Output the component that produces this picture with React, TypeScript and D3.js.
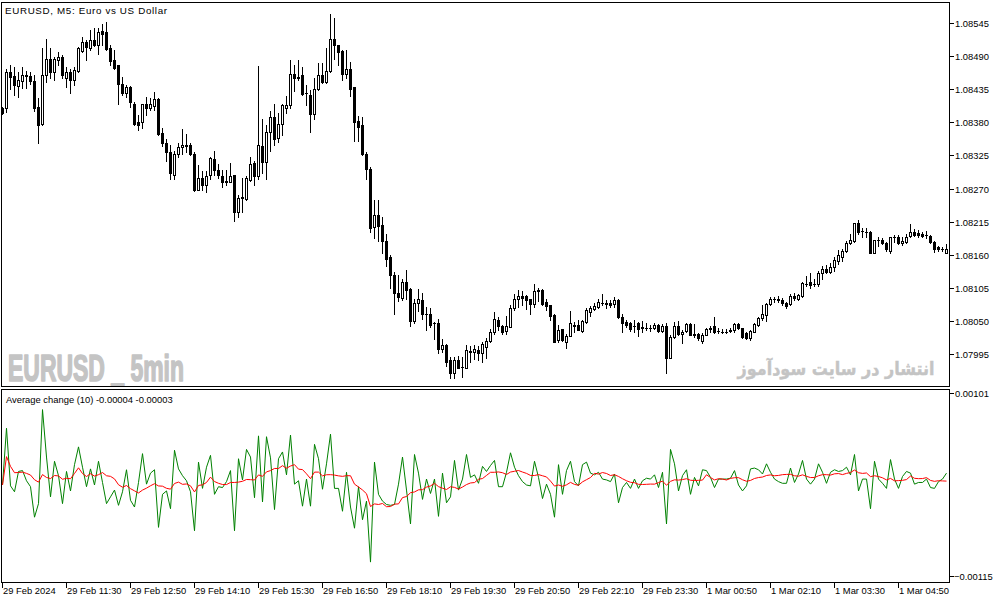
import * as d3 from 'd3';

// EURUSD M5 candles, 29 Feb 2024 10:10 -> 1 Mar 2024 05:50 (one value per bar)
const opens = [
  1.08403, 1.08403, 1.08463, 1.08457, 1.08441, 1.08449, 1.08459, 1.08457, 1.08449, 1.08405,
  1.08377, 1.08459, 1.08485, 1.08464, 1.08484, 1.08488, 1.08454, 1.08464, 1.0845, 1.08465,
  1.08499, 1.08514, 1.08504, 1.08516, 1.08509, 1.08531, 1.0853, 1.08503, 1.08483, 1.08475,
  1.08443, 1.08428, 1.08438, 1.08411, 1.0838, 1.0838, 1.0841, 1.08403, 1.08407, 1.08418,
  1.08363, 1.08345, 1.0833, 1.08293, 1.08327, 1.08339, 1.08343, 1.08343, 1.08328, 1.08268,
  1.08287, 1.08276, 1.08292, 1.08319, 1.08301, 1.08291, 1.08283, 1.08281, 1.08292, 1.08231,
  1.08256, 1.08252, 1.08284, 1.08313, 1.08291, 1.08341, 1.08314, 1.08364, 1.08389, 1.08354,
  1.08377, 1.08404, 1.08408, 1.0846, 1.08456, 1.08459, 1.08428, 1.08426, 1.08394, 1.08435,
  1.08459, 1.08447, 1.08465, 1.08519, 1.08508, 1.08498, 1.0846, 1.08468, 1.08438, 1.08382,
  1.08375, 1.08328, 1.08303, 1.08206, 1.08226, 1.08209, 1.08183, 1.08157, 1.08126, 1.08096,
  1.08088, 1.08114, 1.08103, 1.0805, 1.08079, 1.08085, 1.08061, 1.08061, 1.08047, 1.08047,
  1.08003, 1.0801, 1.07985, 1.07963, 1.07985, 1.07974, 1.07972, 1.07998, 1.07998, 1.08001,
  1.07996, 1.08007, 1.08016, 1.08031, 1.08051, 1.08041, 1.08033, 1.0804, 1.08072, 1.08087,
  1.08091, 1.08091, 1.08086, 1.08078, 1.08099, 1.08101, 1.08081, 1.08076, 1.0806, 1.08018,
  1.08036, 1.08015, 1.08025, 1.08044, 1.08043, 1.08033, 1.08048, 1.08064, 1.08069, 1.08073,
  1.08079, 1.08079, 1.08079, 1.08078, 1.08084, 1.08057, 1.08048, 1.08047, 1.08042, 1.08047,
  1.0804, 1.08038, 1.08039, 1.08038, 1.08043, 1.08034, 1.08042, 1.07989, 1.08024, 1.08042,
  1.08028, 1.08034, 1.08045, 1.08027, 1.08029, 1.08016, 1.08027, 1.08036, 1.08042, 1.08034,
  1.08032, 1.08032, 1.08034, 1.08035, 1.08045, 1.08038, 1.0803, 1.08022, 1.08032, 1.08044,
  1.08055, 1.0806, 1.08078, 1.08086, 1.08087, 1.08085, 1.08079, 1.08078, 1.08092, 1.08087,
  1.08091, 1.08111, 1.08115, 1.08112, 1.08111, 1.08129, 1.08137, 1.08132, 1.0814, 1.0815,
  1.08156, 1.08166, 1.08179, 1.08183, 1.08212, 1.08199, 1.08198, 1.08198, 1.08163, 1.08184,
  1.08184, 1.0818, 1.08166, 1.08189, 1.0819, 1.08179, 1.08181, 1.08191, 1.08198, 1.08196,
  1.08195, 1.08192, 1.08191, 1.08181, 1.08172, 1.08169, 1.08163,
];

const highs = [
  1.08405, 1.08469, 1.08475, 1.08472, 1.08464, 1.08472, 1.08465, 1.08464, 1.08458, 1.0842,
  1.08503, 1.08519, 1.08503, 1.08489, 1.08497, 1.08492, 1.08472, 1.08469, 1.08472, 1.08505,
  1.08522, 1.08516, 1.08533, 1.08536, 1.08537, 1.08544, 1.08546, 1.08509, 1.085, 1.08476,
  1.08456, 1.08442, 1.08441, 1.08413, 1.08392, 1.08411, 1.08422, 1.0842, 1.08431, 1.08421,
  1.0837, 1.08353, 1.08343, 1.08332, 1.08345, 1.08369, 1.0836, 1.08345, 1.08331, 1.08309,
  1.08299, 1.08299, 1.08323, 1.08332, 1.0831, 1.08301, 1.08301, 1.08312, 1.08292, 1.0826,
  1.08287, 1.0829, 1.08323, 1.08316, 1.08473, 1.08385, 1.08375, 1.08399, 1.0841, 1.08395,
  1.08411, 1.08424, 1.08483, 1.08475, 1.08483, 1.08472, 1.08442, 1.08434, 1.08454, 1.08478,
  1.08478, 1.08503, 1.0856, 1.08553, 1.08509, 1.085, 1.085, 1.0848, 1.08439, 1.08391,
  1.08389, 1.08331, 1.08306, 1.08251, 1.08251, 1.08223, 1.08194, 1.08159, 1.08131, 1.08127,
  1.0812, 1.08134, 1.08104, 1.08087, 1.08103, 1.08097, 1.08073, 1.08071, 1.08049, 1.08053,
  1.0802, 1.08011, 1.0799, 1.0799, 1.07992, 1.0799, 1.0801, 1.08009, 1.0801, 1.08009,
  1.08015, 1.08021, 1.08036, 1.08065, 1.08057, 1.08044, 1.08058, 1.08077, 1.08094, 1.08101,
  1.08099, 1.08093, 1.08086, 1.08112, 1.08105, 1.08103, 1.08087, 1.08077, 1.08061, 1.08043,
  1.08036, 1.08029, 1.08066, 1.08048, 1.08051, 1.08051, 1.08071, 1.08075, 1.08079, 1.08086,
  1.08094, 1.08084, 1.08084, 1.0809, 1.08086, 1.08061, 1.08051, 1.08048, 1.08051, 1.08048,
  1.0805, 1.08046, 1.08044, 1.08046, 1.08045, 1.08045, 1.08046, 1.08027, 1.08048, 1.0805,
  1.08035, 1.08046, 1.08046, 1.08045, 1.0803, 1.0803, 1.08039, 1.08041, 1.08057, 1.08038,
  1.08037, 1.08037, 1.08038, 1.08046, 1.08046, 1.08039, 1.08032, 1.08035, 1.08046, 1.08057,
  1.08076, 1.0808, 1.08089, 1.08089, 1.08091, 1.08088, 1.08081, 1.08094, 1.08096, 1.08094,
  1.08115, 1.08124, 1.08129, 1.0812, 1.08133, 1.08141, 1.08143, 1.08146, 1.08156, 1.08168,
  1.0817, 1.08183, 1.08194, 1.08213, 1.08217, 1.08205, 1.08204, 1.08199, 1.08185, 1.08189,
  1.08187, 1.08181, 1.0819, 1.08192, 1.08192, 1.0819, 1.08194, 1.08211, 1.08202, 1.08201,
  1.08198, 1.08199, 1.08192, 1.08183, 1.08174, 1.08172, 1.08177,
];

const lows = [
  1.08394, 1.08397, 1.08436, 1.08425, 1.08422, 1.08437, 1.08437, 1.08444, 1.08399, 1.08345,
  1.08375, 1.08447, 1.08453, 1.0845, 1.08475, 1.08453, 1.08439, 1.08428, 1.08442, 1.08464,
  1.08497, 1.08484, 1.085, 1.08507, 1.08493, 1.08508, 1.085, 1.08475, 1.08468, 1.0841,
  1.08425, 1.08422, 1.08406, 1.08375, 1.08367, 1.0837, 1.08392, 1.084, 1.084, 1.08359,
  1.08341, 1.08316, 1.08286, 1.08286, 1.08323, 1.08327, 1.08331, 1.08326, 1.08266, 1.08267,
  1.08267, 1.08265, 1.08286, 1.08292, 1.08287, 1.08272, 1.08275, 1.0828, 1.08216, 1.08223,
  1.08231, 1.08251, 1.08282, 1.08276, 1.08286, 1.08295, 1.08286, 1.08332, 1.08343, 1.08347,
  1.08359, 1.08396, 1.08404, 1.08432, 1.0845, 1.08425, 1.08409, 1.08364, 1.08385, 1.08434,
  1.08446, 1.08446, 1.08464, 1.08485, 1.08475, 1.08451, 1.08454, 1.08424, 1.08349, 1.08349,
  1.08326, 1.08286, 1.08198, 1.08187, 1.08182, 1.08162, 1.08142, 1.08105, 1.08061, 1.08083,
  1.08085, 1.08086, 1.08042, 1.08046, 1.08066, 1.08053, 1.08035, 1.0804, 1.0802, 1.07996,
  1.07998, 1.07975, 1.07955, 1.07955, 1.07971, 1.07957, 1.07971, 1.07981, 1.07987, 1.07985,
  1.07981, 1.07989, 1.08015, 1.08029, 1.08035, 1.08029, 1.08029, 1.0804, 1.08068, 1.08073,
  1.08076, 1.08069, 1.08062, 1.08073, 1.08083, 1.08076, 1.08068, 1.08052, 1.08015, 1.08015,
  1.08016, 1.08005, 1.08025, 1.08032, 1.08035, 1.08032, 1.08047, 1.08058, 1.08068, 1.08072,
  1.08077, 1.08071, 1.08073, 1.08073, 1.08055, 1.08032, 1.0804, 1.08033, 1.08032, 1.08025,
  1.08032, 1.08035, 1.08034, 1.08037, 1.08032, 1.08032, 1.07963, 1.07988, 1.08022, 1.08026,
  1.08013, 1.08031, 1.0803, 1.08024, 1.08019, 1.08013, 1.08026, 1.08032, 1.0803, 1.0803,
  1.0803, 1.0803, 1.08031, 1.08032, 1.08037, 1.08022, 1.0802, 1.08019, 1.08031, 1.08042,
  1.08052, 1.0805, 1.08076, 1.08082, 1.08081, 1.08077, 1.08072, 1.08076, 1.08085, 1.08085,
  1.08089, 1.08108, 1.08105, 1.08108, 1.08108, 1.0812, 1.08129, 1.0813, 1.08133, 1.08145,
  1.0815, 1.08165, 1.08177, 1.08181, 1.08195, 1.0819, 1.08189, 1.08162, 1.08162, 1.08174,
  1.08177, 1.08166, 1.08163, 1.08181, 1.08177, 1.08176, 1.08179, 1.0819, 1.08191, 1.08189,
  1.08189, 1.08187, 1.0818, 1.08165, 1.08166, 1.08166, 1.08162,
];

const closes = [
  1.08396, 1.08463, 1.08455, 1.08442, 1.0845, 1.08459, 1.08457, 1.08448, 1.08404, 1.08376,
  1.08459, 1.08485, 1.08464, 1.08485, 1.08488, 1.08459, 1.08463, 1.0845, 1.08467, 1.08503,
  1.08513, 1.08505, 1.08516, 1.08509, 1.0853, 1.08527, 1.08501, 1.08482, 1.0847, 1.08444,
  1.08428, 1.08439, 1.08413, 1.08378, 1.08376, 1.0841, 1.08404, 1.0841, 1.08418, 1.08361,
  1.08345, 1.08331, 1.08295, 1.08327, 1.08339, 1.08343, 1.08341, 1.08328, 1.08267, 1.08288,
  1.08276, 1.0829, 1.0832, 1.08301, 1.08292, 1.08281, 1.0828, 1.08291, 1.08231, 1.08255,
  1.08255, 1.08287, 1.0831, 1.08291, 1.08342, 1.08314, 1.08364, 1.08389, 1.08353, 1.08378,
  1.08409, 1.08409, 1.0846, 1.08454, 1.08454, 1.08427, 1.08428, 1.08394, 1.08435, 1.08459,
  1.08447, 1.08465, 1.08518, 1.08508, 1.08497, 1.0846, 1.08468, 1.08435, 1.0838, 1.08373,
  1.08327, 1.08302, 1.08205, 1.08226, 1.08208, 1.08183, 1.08153, 1.08126, 1.08096, 1.0809,
  1.08114, 1.08101, 1.0805, 1.08079, 1.08086, 1.08061, 1.08061, 1.08044, 1.08047, 1.08003,
  1.0801, 1.07982, 1.07964, 1.07985, 1.07972, 1.07974, 1.08001, 1.08, 1.08003, 1.07996,
  1.08011, 1.08016, 1.08032, 1.08053, 1.08042, 1.08032, 1.08041, 1.08071, 1.08086, 1.08091,
  1.08088, 1.08084, 1.08078, 1.08099, 1.08101, 1.08078, 1.08075, 1.08058, 1.08015, 1.08035,
  1.08018, 1.08025, 1.08046, 1.08041, 1.08035, 1.0805, 1.08068, 1.08071, 1.08074, 1.08081,
  1.08079, 1.08078, 1.08076, 1.08084, 1.08056, 1.08047, 1.08044, 1.08036, 1.08042, 1.08036,
  1.08038, 1.08039, 1.08039, 1.08043, 1.08033, 1.08042, 1.07989, 1.08024, 1.08042, 1.08028,
  1.08032, 1.08045, 1.08027, 1.08029, 1.08021, 1.08027, 1.08037, 1.08038, 1.08032, 1.08034,
  1.08032, 1.08032, 1.08035, 1.08045, 1.08038, 1.08024, 1.08022, 1.08034, 1.08045, 1.08055,
  1.08061, 1.08078, 1.08086, 1.08086, 1.08084, 1.0808, 1.08074, 1.08091, 1.08088, 1.08093,
  1.08113, 1.08111, 1.08109, 1.08112, 1.08129, 1.08137, 1.08132, 1.0814, 1.08151, 1.08159,
  1.08166, 1.0818, 1.08184, 1.08212, 1.08198, 1.08199, 1.08198, 1.08163, 1.08184, 1.08184,
  1.08179, 1.08169, 1.08189, 1.08189, 1.08179, 1.08182, 1.0819, 1.08198, 1.08192, 1.08192,
  1.08191, 1.08192, 1.08181, 1.0817, 1.08169, 1.08169, 1.0817,
];

const priceTicks = [
  1.08545, 1.0849, 1.08435, 1.0838, 1.08325, 1.0827, 1.08215, 1.0816, 1.08105, 1.0805, 1.07995,
];
const indicatorTicks = [0.00101, -0.00115];

const timeTickBars = [0, 16, 32, 48, 64, 80, 96, 112, 128, 144, 160, 176, 192, 208, 224];
const timeLabels = [
  '29 Feb 2024', '29 Feb 11:30', '29 Feb 12:50', '29 Feb 14:10', '29 Feb 15:30',
  '29 Feb 16:50', '29 Feb 18:10', '29 Feb 19:30', '29 Feb 20:50', '29 Feb 22:10',
  '29 Feb 23:30', '1 Mar 00:50', '1 Mar 02:10', '1 Mar 03:30', '1 Mar 04:50',
];

const TITLE = 'EURUSD, M5:  Euro vs US Dollar';
const INDICATOR_NAME = 'Average change (10) -0.00004 -0.00003';
const AVG_PERIOD = 10;

const WIDTH = 1003;
const HEIGHT = 603;
const LEFT = 1.5;
const RIGHT = 949.5;
const MAIN_TOP = 2.5;
const MAIN_BOTTOM = 386.5;
const IND_TOP = 389.5;
const IND_BOTTOM = 582.5;
const FONT = "'Liberation Sans', Arial, sans-serif";
const TEXT_SIZE = 9.4;

const GREEN = '#008000';
const RED = '#ff0000';
const MARK_GREY = '#c4c4c4';

export default function App() {
  const n = closes.length;
  const x = d3.scaleLinear().domain([0, n - 1]).range([2, 946]);
  const y = d3
    .scaleLinear()
    .domain([priceTicks[priceTicks.length - 1], priceTicks[0]])
    .range([354.5, 23.5]);
  const yInd = d3
    .scaleLinear()
    .domain([indicatorTicks[1], indicatorTicks[0]])
    .range([576.5, 393.5]);

  const row = (p: number) => Math.floor(y(p));
  const col = (i: number) => Math.round(x(i));

  // indicator: bar change and its 10 bar average
  const change = closes.map((c, i) => c - opens[i]);
  const average = change.map(
    (_, i) => d3.mean(change.slice(Math.max(0, i - AVG_PERIOD + 1), i + 1)) ?? 0
  );

  const line = d3
    .line<number>()
    .x((_, i) => x(i) + 0.5)
    .y((d) => yInd(d));

  const fmt = d3.format('.5f');

  return (
    <div style={{ position: 'absolute', left: 0, top: 0 }}>
      <svg width={WIDTH} height={HEIGHT} style={{ display: 'block', background: '#fff' }}>
        <defs>
          <clipPath id='main-clip'>
            <rect x={LEFT} y={MAIN_TOP} width={RIGHT - LEFT} height={MAIN_BOTTOM - MAIN_TOP} />
          </clipPath>
          <clipPath id='ind-clip'>
            <rect x={LEFT} y={IND_TOP} width={RIGHT - LEFT} height={IND_BOTTOM - IND_TOP} />
          </clipPath>
        </defs>

        {/* Watermarks */}
        <text
          x={8}
          y={381}
          fontFamily="'Liberation Sans Narrow', 'Liberation Sans', sans-serif"
          fontWeight='bold'
          fontSize={37}
          fill={MARK_GREY}
          stroke={MARK_GREY}
          strokeWidth={1.6}
          strokeLinejoin='round'
          textLength={176}
          lengthAdjust='spacingAndGlyphs'
        >
          EURUSD _ 5min
        </text>
        <text
          x={836}
          y={375}
          textAnchor='middle'
          fontFamily="'DejaVu Sans', sans-serif"
          fontWeight='bold'
          fontSize={18}
          fill={MARK_GREY}
          stroke={MARK_GREY}
          strokeWidth={0.4}
          textLength={197}
          lengthAdjust='spacingAndGlyphs'
        >
          انتشار در سایت سودآموز
        </text>

        {/* Candles */}
        <g clipPath='url(#main-clip)' shapeRendering='crispEdges'>
          {closes.map((c, i) => {
            const cx = col(i);
            const o = opens[i];
            const rh = row(highs[i]);
            const rl = row(lows[i]);
            const top = Math.min(row(o), row(c));
            const bot = Math.max(row(o), row(c));
            const bull = c > o;
            return (
              <g key={i}>
                <rect x={cx} y={rh} width={1} height={rl - rh + 1} fill='#000' />
                <rect x={cx - 1} y={top} width={3} height={bot - top + 1} fill='#000' />
                {bull && bot - top >= 2 && (
                  <rect x={cx} y={top + 1} width={1} height={bot - top - 1} fill='#fff' />
                )}
              </g>
            );
          })}
        </g>

        {/* Indicator lines */}
        <g clipPath='url(#ind-clip)' fill='none'>
          <path d={line(change) ?? ''} stroke={GREEN} strokeWidth={1} />
          <path d={line(average) ?? ''} stroke={RED} strokeWidth={1} />
        </g>

        {/* Panel frames */}
        <g fill='none' stroke='#000' strokeWidth={1} shapeRendering='crispEdges'>
          <rect x={LEFT} y={MAIN_TOP} width={RIGHT - LEFT} height={MAIN_BOTTOM - MAIN_TOP} />
          <rect x={LEFT} y={IND_TOP} width={RIGHT - LEFT} height={IND_BOTTOM - IND_TOP} />
        </g>

        {/* Price axis */}
        <g fontFamily={FONT} fontSize={TEXT_SIZE} fill='#000'>
          {priceTicks.map((p) => (
            <g key={p}>
              <line
                x1={RIGHT}
                x2={RIGHT + 4}
                y1={row(p) + 0.5}
                y2={row(p) + 0.5}
                stroke='#000'
                shapeRendering='crispEdges'
              />
              <text x={955} y={row(p) + 0.5} dy='0.35em'>
                {fmt(p)}
              </text>
            </g>
          ))}
          {indicatorTicks.map((v) => (
            <g key={v}>
              <line
                x1={RIGHT}
                x2={RIGHT + 4}
                y1={Math.floor(yInd(v)) + 0.5}
                y2={Math.floor(yInd(v)) + 0.5}
                stroke='#000'
                shapeRendering='crispEdges'
              />
              <text x={v < 0 ? 954 : 955} y={Math.floor(yInd(v)) + 0.5} dy='0.35em'>
                {fmt(v)}
              </text>
            </g>
          ))}
        </g>

        {/* Time axis */}
        <g fontFamily={FONT} fontSize={TEXT_SIZE} fill='#000'>
          {timeTickBars.map((b, k) => (
            <g key={b}>
              <line
                x1={col(b) + 0.5}
                x2={col(b) + 0.5}
                y1={IND_BOTTOM}
                y2={IND_BOTTOM + 5}
                stroke='#000'
                shapeRendering='crispEdges'
              />
              <text x={col(b) + 1} y={594}>
                {timeLabels[k]}
              </text>
            </g>
          ))}
        </g>

        {/* Titles */}
        <text
          x={5}
          y={14}
          fontFamily={FONT}
          fontSize={TEXT_SIZE + 0.4}
          fill='#000'
          textLength={162}
        >
          {TITLE}
        </text>
        <text x={6} y={403} fontFamily={FONT} fontSize={TEXT_SIZE} fill='#000'>
          {INDICATOR_NAME}
        </text>
      </svg>
    </div>
  );
}
